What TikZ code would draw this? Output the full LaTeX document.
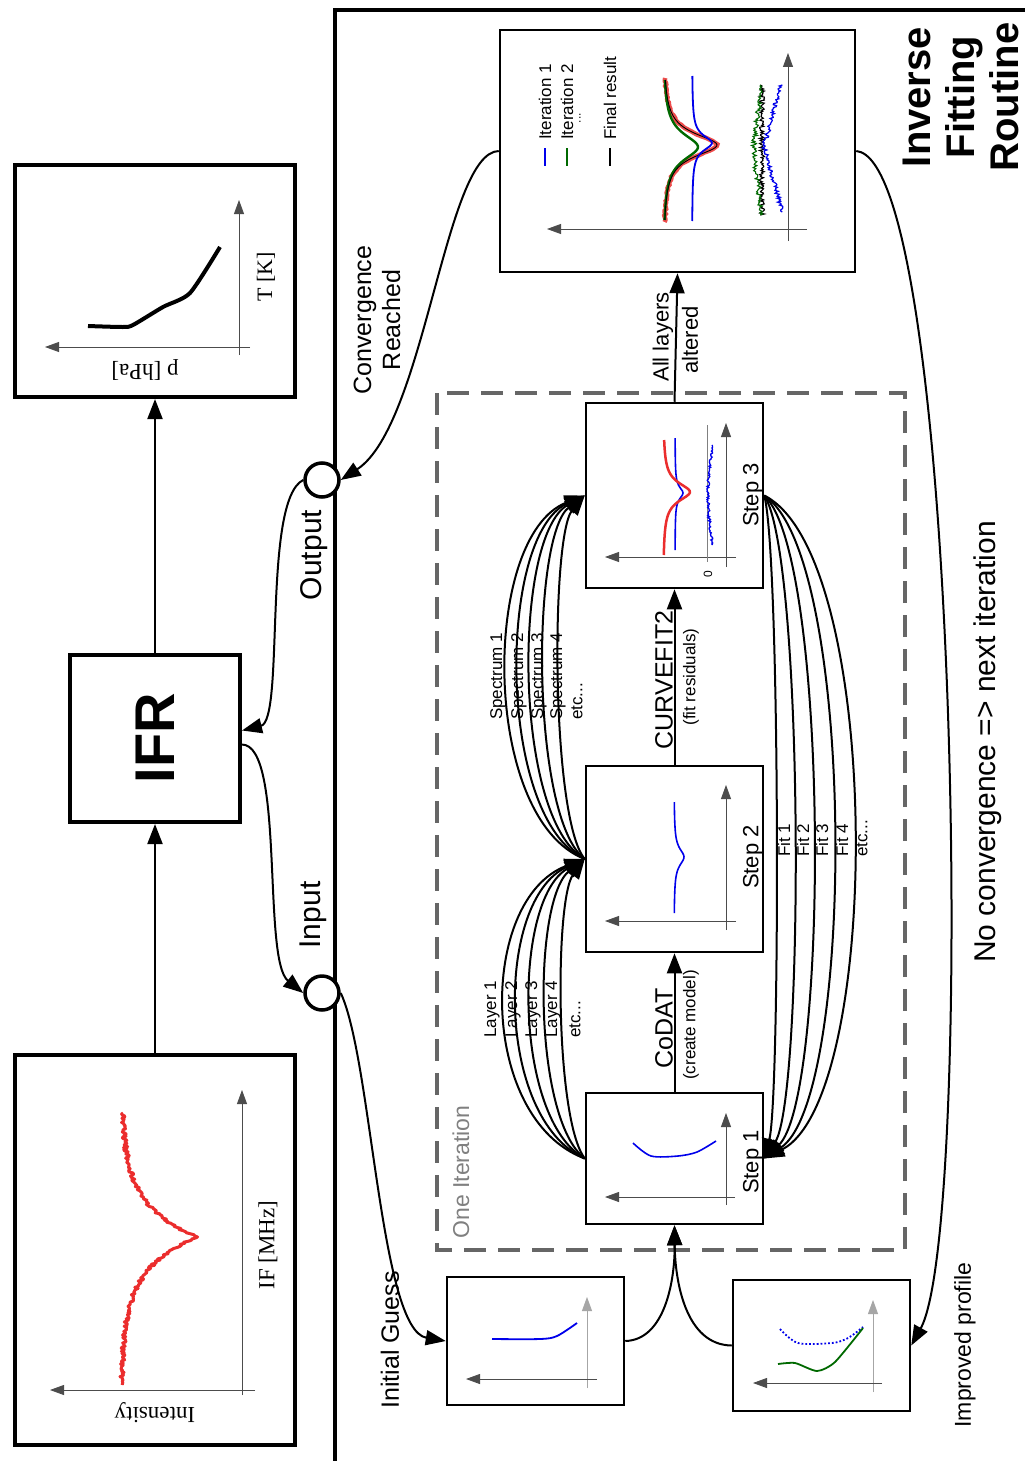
\documentclass[tikz,border=0pt]{standalone}
\usepackage{fontspec}
\setmainfont{Liberation Sans}
\newfontfamily\tnr{Liberation Serif}
\usetikzlibrary{arrows.meta,calc}
\newcommand\fsz[2]{\fontsize{#1}{#2}\selectfont}
\definecolor{myred}{RGB}{235,45,45}
\definecolor{myblue}{RGB}{0,0,235}
\definecolor{mygreen}{RGB}{0,105,0}
\begin{document}
\begin{tikzpicture}[x=1pt,y=-1pt,
  bigbox/.style={draw,line width=4pt,fill=white,inner sep=0pt},
  stepbox/.style={draw,line width=2.5pt,fill=white,inner sep=0pt},
  conn/.style={line width=2pt,-{Triangle[length=20pt,width=15pt]}},
  ax/.style={line width=0.8pt,draw=black!70,-{Triangle[length=14pt,width=10pt]}},
  lab/.style={rotate=90,inner sep=0pt},
  circ/.style={circle,draw,line width=3.5pt,fill=white,minimum size=34pt,inner sep=0pt},
]
\pgfmathsetseed{7}
\path[use as bounding box] (0,0) rectangle (1025,1461);

% frame of the routine
\draw[line width=4pt] (335,1461) -- (335,10) -- (1025,10);

% left column boxes
\node[bigbox,minimum width=280pt,minimum height=390pt] (spec) at (155,1250) {};
\node[bigbox,minimum width=170pt,minimum height=167pt] (ifr) at (155,738.5) {};
\node[bigbox,minimum width=280pt,minimum height=232pt] (tp) at (155,281) {};
\node[lab,font=\bfseries\fsz{56}{60}] (ifrlbl) at (155,738) {IFR};

% spectrum plot
\draw[ax] (242,1395) -- (242,1090);
\draw[ax] (255,1390) -- (50,1390);
\draw[myred,line width=3pt,line join=round] plot[domain=1113:1385,samples=260,variable=\t] ({121+76*exp(-abs(\t-1237)/32)+2.2*rand},\t);
\node[lab,font=\tnr\fsz{23}{26}] (iflbl) at (268,1245) {IF [MHz]};
\node[rotate=180,inner sep=0pt,font=\tnr\fsz{23}{26}] (intlbl) at (155,1413) {Intensity};

% T/p plot
\draw[ax] (239,355) -- (239,200);
\draw[ax] (250,347) -- (45,347);
\draw[line width=4pt,line join=round] plot[smooth,tension=0.4] coordinates {(88,326) (123,327) (133,325) (163,307) (190,293) (220,247)};
\node[lab,font=\tnr\fsz{22}{26}] (tlbl) at (266,277) {T [K]};
\node[rotate=180,inner sep=0pt,font=\tnr\fsz{23}{26}] (plbl) at (145,370) {p [hPa]};

% left arrows
\draw[conn] (spec.north) -- (ifr.south);
\draw[conn] (ifr.north) -- (tp.south);

% dashed iteration box
\draw[draw=black!60,line width=4pt,dash pattern=on 22pt off 12pt] (437,393) rectangle (905,1250);
\node[lab,font=\fsz{23}{26},text=black!50] (onelbl) at (461,1172) {One Iteration};

% boxes of the routine
\node[stepbox,minimum width=355pt,minimum height=242pt] (res) at (677.5,151) {};
\node[stepbox,minimum width=177pt,minimum height=185pt] (s3) at (674.5,495.5) {};
\node[stepbox,minimum width=177pt,minimum height=186pt] (s2) at (674.5,859) {};
\node[stepbox,minimum width=177pt,minimum height=131pt] (s1) at (674.5,1158.5) {};
\node[stepbox,minimum width=177pt,minimum height=128pt] (ig) at (535.5,1341) {};
\node[stepbox,minimum width=177pt,minimum height=131pt] (imp) at (821.5,1345.5) {};

% result plot
\draw[ax] (788,241) -- (788,53);
\draw[ax] (807,229) -- (547,229);
\draw[myred!85,line width=4.5pt] plot[domain=78:222,samples=90,variable=\t] ({663+54/(1+(\t-145)*(\t-145)/196)+0.8*rand},\t);
\draw[mygreen,line width=2.4pt] plot[domain=80:220,samples=90,variable=\t] ({663+35/(1+(\t-147)*(\t-147)/256)},\t);
\draw[black,line width=0.9pt] plot[domain=80:220,samples=90,variable=\t] ({663+54/(1+(\t-145)*(\t-145)/196)},\t);
\draw[myblue,line width=1.8pt] plot[domain=76:221,samples=90,variable=\t] ({692+20/(1+(\t-143)*(\t-143)/81)},\t);
\draw[black,line width=1.1pt] plot[domain=85:215,samples=130,variable=\t] ({762+2.5*rand},\t);
\draw[mygreen,line width=1.1pt] plot[domain=85:215,samples=130,variable=\t] ({761-7*exp(-(\t-150)*(\t-150)/1600)+2.5*rand},\t);
\draw[myblue,line width=1.2pt] plot[domain=85:212,samples=130,variable=\t] ({764+18*abs(\t-146)/65+2.2*rand},\t);
\draw[myblue,line width=1.5pt] (545,148) -- (545,166);
\draw[mygreen,line width=1.5pt] (567,148) -- (567,166);
\draw[black,line width=1.5pt] (610,148) -- (610,166);
\node[lab,anchor=west,font=\fsz{17}{20}] (it1) at (545,140) {Iteration 1};
\node[lab,anchor=west,font=\fsz{17}{20}] (it2) at (567,140) {Iteration 2};
\node[lab,font=\fsz{12}{14}] (itd) at (580,118) {...};
\node[lab,anchor=west,font=\fsz{17}{20}] (fin) at (610,140) {Final result};

% step 3 plot
\draw[ax] (726,567) -- (726,423);
\draw[ax] (736,557) -- (605,557);
\draw[black!50,line width=0.8pt] (707,425) -- (707,562);
\node[lab,font=\fsz{12}{14}] (zero) at (708,574) {0};
\draw[myblue,line width=1.6pt] plot[domain=438:550,samples=60,variable=\t] ({675+8/(1+(\t-493)*(\t-493)/49)},\t);
\draw[myred,line width=2.5pt] plot[domain=440:555,samples=60,variable=\t] ({663+27/(1+(\t-492)*(\t-492)/121)},\t);
\draw[myblue,line width=1.3pt] plot[domain=445:545,samples=100,variable=\t] ({708+5*(\t-495)*(\t-495)/2500+1.3*rand},\t);
\node[lab,font=\fsz{22}{26}] (s3lbl) at (753,495) {Step 3};

% step 2 plot
\draw[ax] (726,930) -- (726,785);
\draw[ax] (736,921) -- (605,921);
\draw[myblue,line width=1.6pt] plot[domain=802:913,samples=60,variable=\t] ({674+10/(1+(\t-857)*(\t-857)/100)},\t);
\node[lab,font=\fsz{22}{26}] (s2lbl) at (753,857) {Step 2};

% step 1 plot
\draw[ax] (726,1205) -- (726,1113);
\draw[ax] (735,1197) -- (605,1197);
\draw[myblue,line width=1.6pt] plot[smooth,tension=0.5] coordinates {(633,1143) (651,1156) (678,1156) (697,1152) (716,1141)};
\node[lab,font=\fsz{22}{26}] (s1lbl) at (753,1162) {Step 1};

% initial guess plot
\draw[ax,draw=black!35] (587,1388) -- (587,1297);
\draw[ax] (597,1379) -- (466,1379);
\draw[myblue,line width=1.8pt] plot[smooth,tension=0.5] coordinates {(492,1339) (540,1339) (557,1336) (577,1323)};

% improved plot
\draw[ax,draw=black!35] (873,1392) -- (873,1300);
\draw[ax] (882,1383) -- (753,1383);
\draw[myblue,line width=1.8pt,dotted] plot[smooth,tension=0.5] coordinates {(780,1329) (798,1343) (832,1343) (848,1338) (863,1327)};
\draw[mygreen,line width=1.8pt] plot[smooth,tension=0.4] coordinates {(778,1364) (795,1363) (817,1371) (835,1362) (863,1328)};

% circles
\node[circ] (outc) at (322,480) {};
\node[circ] (inc) at (322,993) {};
\node[lab,font=\fsz{30}{34}] (outlbl) at (314,555) {Output};
\node[lab,font=\fsz{30}{34}] (inlbl) at (313,915) {Input};

% main connectors
\draw[conn] (s1.north) -- (s2.south);
\draw[conn] (s2.north) -- (s3.south);
\draw[conn] (s3.north) -- (res.south);
\draw[conn] (ig.east) .. controls (665,1340) and (675,1280) .. (s1.south);
\draw[conn] (imp.west) .. controls (685,1345) and (675,1280) .. (s1.south);
\draw[conn] ([yshift=-6pt]ifr.east) .. controls (285,745) and (262,960) .. (inc.west);
\draw[conn] (outc.west) .. controls (262,500) and (285,720) .. ([yshift=8pt]ifr.east);
\draw[conn] (inc.east) .. controls (372,1060) and (380,1330) .. (ig.west);
\draw[conn] (res.west) .. controls (445,152) and (425,425) .. (outc.east);
\draw[conn] (res.east) .. controls (960,160) and (975,1230) .. (imp.east);

% iteration loops
\foreach \c in {107,90,72,52,30}
  \draw[conn] (s1.west) .. controls +(-\c,-40) and +(-\c,40) .. (s2.west);
\foreach \c in {104,88,72,54,34}
  \draw[conn] (s2.west) .. controls +(-\c,-40) and +(-\c,40) .. (s3.west);
\foreach \c in {16,40,65,92,119}
  \draw[conn] (s3.east) .. controls +(\c,60) and +(\c,-60) .. (s1.east);

% connector labels
\node[lab,font=\fsz{25}{28}] (codat) at (664,1028) {CoDAT};
\node[lab,font=\fsz{17}{20}] (codat2) at (691,1025) {(create model)};
\node[lab,font=\fsz{25}{28}] (cfit) at (664,680) {CURVEFIT2};
\node[lab,font=\fsz{17}{20}] (cfit2) at (691,677) {(fit residuals)};
\node[lab,font=\fsz{22}{26}] (all1) at (663,337) {All layers};
\node[lab,font=\fsz{22}{26}] (all2) at (690,340) {altered};
\node[lab,anchor=west,font=\fsz{17}{20}] (l1) at (492,1038) {Layer 1};
\node[lab,anchor=west,font=\fsz{17}{20}] (l2) at (513,1038) {Layer 2};
\node[lab,anchor=west,font=\fsz{17}{20}] (l3) at (533,1038) {Layer 3};
\node[lab,anchor=west,font=\fsz{17}{20}] (l4) at (553,1038) {Layer 4};
\node[lab,anchor=west,font=\fsz{17}{20}] (l5) at (575,1038) {etc...};
\node[lab,anchor=west,font=\fsz{17}{20}] (sp1) at (498,720) {Spectrum 1};
\node[lab,anchor=west,font=\fsz{17}{20}] (sp2) at (519,720) {Spectrum 2};
\node[lab,anchor=west,font=\fsz{17}{20}] (sp3) at (539,720) {Spectrum 3};
\node[lab,anchor=west,font=\fsz{17}{20}] (sp4) at (558,720) {Spectrum 4};
\node[lab,anchor=west,font=\fsz{17}{20}] (sp5) at (577,720) {etc...};
\node[lab,anchor=west,font=\fsz{17}{20}] (f1) at (784,857) {Fit 1};
\node[lab,anchor=west,font=\fsz{17}{20}] (f2) at (803,857) {Fit 2};
\node[lab,anchor=west,font=\fsz{17}{20}] (f3) at (822,857) {Fit 3};
\node[lab,anchor=west,font=\fsz{17}{20}] (f4) at (842,857) {Fit 4};
\node[lab,anchor=west,font=\fsz{17}{20}] (f5) at (862,857) {etc...};

\node[lab,font=\fsz{25}{29},align=center] (conv) at (377,320) {Convergence\\Reached};
\node[lab,font=\fsz{25}{28}] (iglbl) at (390,1340) {Initial Guess};
\node[lab,font=\fsz{23}{26}] (implbl) at (965,1345) {Improved profile};
\node[lab,font=\fsz{30}{34}] (nocon) at (988,742) {No convergence => next iteration};
\node[lab,font=\bfseries\fsz{40}{44},align=center] (ifrt) at (961,97) {Inverse\\Fitting\\Routine};
\end{tikzpicture}
\end{document}
